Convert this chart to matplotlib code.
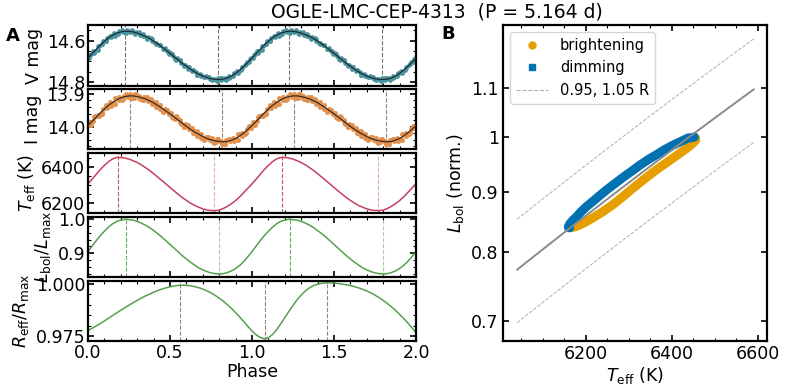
import numpy as np
import matplotlib
matplotlib.use("Agg")
import matplotlib.pyplot as plt
from matplotlib.ticker import AutoMinorLocator, FixedLocator, FixedFormatter, NullFormatter
from matplotlib.lines import Line2D

# ---------------- data (one pulsation cycle, phase 0..1) ----------------
phase_grid = [i * 0.025 for i in range(41)]

v_model = [14.684, 14.662, 14.642, 14.622, 14.603, 14.587, 14.574, 14.564, 14.558, 14.555,
           14.556, 14.558, 14.564, 14.571, 14.579, 14.590, 14.602, 14.616, 14.630, 14.646,
           14.661, 14.677, 14.693, 14.709, 14.723, 14.737, 14.750, 14.761, 14.770, 14.777,
           14.783, 14.786, 14.787, 14.785, 14.779, 14.770, 14.757, 14.742, 14.724, 14.704, 14.684]

i_model = [13.996, 13.984, 13.971, 13.958, 13.946, 13.935, 13.926, 13.918, 13.912, 13.908,
           13.906, 13.906, 13.908, 13.911, 13.915, 13.921, 13.927, 13.935, 13.943, 13.952,
           13.961, 13.970, 13.980, 13.989, 13.999, 14.008, 14.016, 14.023, 14.030, 14.036,
           14.040, 14.043, 14.045, 14.046, 14.045, 14.041, 14.036, 14.028, 14.019, 14.008, 13.996]

teff = [6308, 6334, 6361, 6388, 6411, 6432, 6447, 6455, 6455, 6452,
        6446, 6437, 6427, 6414, 6399, 6383, 6365, 6346, 6327, 6308,
        6288, 6269, 6250, 6232, 6216, 6201, 6188, 6178, 6169, 6163,
        6160, 6159, 6162, 6171, 6183, 6198, 6215, 6236, 6260, 6284, 6308]

lbol = [0.905, 0.921, 0.937, 0.952, 0.965, 0.977, 0.987, 0.994, 0.998, 1.000,
        0.999, 0.998, 0.994, 0.989, 0.983, 0.976, 0.967, 0.958, 0.948, 0.937,
        0.926, 0.915, 0.904, 0.893, 0.883, 0.874, 0.865, 0.857, 0.851, 0.846,
        0.842, 0.840, 0.839, 0.840, 0.843, 0.848, 0.855, 0.864, 0.876, 0.890, 0.905]

# radius over the full 0..2 range
r_phase = [i * 0.025 for i in range(81)]
r_eff = [0.9776, 0.9787, 0.9798, 0.9810, 0.9822, 0.9835, 0.9848, 0.9861, 0.9874, 0.9886,
         0.9898, 0.9910, 0.9921, 0.9932, 0.9942, 0.9951, 0.9960, 0.9968, 0.9975, 0.9981,
         0.9986, 0.9990, 0.9993, 0.9994, 0.9993, 0.9991, 0.9987, 0.9982, 0.9975, 0.9967,
         0.9957, 0.9945, 0.9932, 0.9917, 0.9900, 0.9882, 0.9862, 0.9841, 0.9819, 0.9796,
         0.9774, 0.9756, 0.9743, 0.9737, 0.9742, 0.9757, 0.9780, 0.9808, 0.9838, 0.9868,
         0.9897, 0.9924, 0.9947, 0.9966, 0.9981, 0.9992, 0.9999, 1.0003, 1.0005, 1.0005,
         1.0004, 1.0002, 0.9999, 0.9996, 0.9992, 0.9987, 0.9981, 0.9974, 0.9966, 0.9957,
         0.9946, 0.9934, 0.9921, 0.9906, 0.9890, 0.9873, 0.9854, 0.9834, 0.9813, 0.9790, 0.9765]

# observed photometry (one cycle)
obs_phase = [0.008, 0.017, 0.033, 0.042, 0.058, 0.067, 0.083, 0.092, 0.108, 0.117,
             0.133, 0.142, 0.158, 0.167, 0.183, 0.192, 0.208, 0.217, 0.233, 0.242,
             0.258, 0.267, 0.283, 0.292, 0.308, 0.317, 0.333, 0.342, 0.358, 0.367,
             0.383, 0.392, 0.408, 0.417, 0.433, 0.442, 0.458, 0.467, 0.483, 0.492,
             0.508, 0.517, 0.533, 0.542, 0.558, 0.567, 0.583, 0.592, 0.608, 0.617,
             0.633, 0.642, 0.658, 0.667, 0.683, 0.692, 0.708, 0.717, 0.733, 0.742,
             0.758, 0.767, 0.783, 0.792, 0.808, 0.817, 0.833, 0.842, 0.858, 0.867,
             0.883, 0.892, 0.908, 0.917, 0.933, 0.942, 0.958, 0.967, 0.983, 0.992]

v_obs = [14.682, 14.665, 14.650, 14.651, 14.643, 14.626, 14.617, 14.602, 14.602, 14.587,
         14.580, 14.584, 14.565, 14.569, 14.567, 14.556, 14.551, 14.559, 14.562, 14.554,
         14.558, 14.550, 14.564, 14.557, 14.563, 14.575, 14.568, 14.578, 14.588, 14.582,
         14.588, 14.601, 14.613, 14.610, 14.621, 14.619, 14.639, 14.636, 14.648, 14.662,
         14.660, 14.674, 14.687, 14.684, 14.692, 14.707, 14.720, 14.717, 14.728, 14.726,
         14.745, 14.741, 14.751, 14.763, 14.758, 14.769, 14.777, 14.771, 14.773, 14.784,
         14.791, 14.783, 14.787, 14.780, 14.790, 14.781, 14.780, 14.787, 14.770, 14.775,
         14.771, 14.757, 14.746, 14.750, 14.743, 14.728, 14.719, 14.703, 14.702, 14.685]

i_obs = [13.986, 13.995, 13.984, 13.967, 13.965, 13.968, 13.962, 13.946, 13.935, 13.942,
         13.926, 13.936, 13.927, 13.913, 13.914, 13.920, 13.919, 13.905, 13.900, 13.910,
         13.900, 13.913, 13.911, 13.899, 13.907, 13.916, 13.920, 13.910, 13.910, 13.922,
         13.917, 13.932, 13.934, 13.924, 13.936, 13.946, 13.954, 13.945, 13.948, 13.961,
         13.958, 13.974, 13.977, 13.969, 13.981, 13.992, 14.000, 13.992, 13.995, 14.008,
         14.005, 14.020, 14.022, 14.013, 14.023, 14.034, 14.040, 14.030, 14.030, 14.042,
         14.035, 14.049, 14.048, 14.036, 14.043, 14.052, 14.054, 14.041, 14.037, 14.045,
         14.033, 14.045, 14.037, 14.023, 14.023, 14.028, 14.023, 14.008, 13.997, 14.003]

# second set of observations (mid-interval phases)
obs_phase_b = [0.0125 + 0.025 * k for k in range(40)]
v_obs_b = [14.670, 14.658, 14.625, 14.615, 14.600, 14.576, 14.576, 14.559, 14.557, 14.550,
           14.554, 14.567, 14.561, 14.577, 14.590, 14.591, 14.616, 14.621, 14.638, 14.648,
           14.666, 14.691, 14.694, 14.718, 14.735, 14.739, 14.763, 14.764, 14.774, 14.774,
           14.782, 14.793, 14.779, 14.784, 14.780, 14.759, 14.757, 14.731, 14.714, 14.688]
i_obs_b = [13.995, 13.970, 13.967, 13.959, 13.936, 13.929, 13.930, 13.909, 13.914, 13.904,
           13.911, 13.899, 13.912, 13.920, 13.913, 13.922, 13.939, 13.933, 13.952, 13.954,
           13.971, 13.967, 13.987, 14.001, 13.999, 14.010, 14.028, 14.021, 14.037, 14.035,
           14.047, 14.036, 14.048, 14.053, 14.038, 14.037, 14.040, 14.018, 14.018, 13.999]

# phases of the marked extrema
v_ext = [0.226, 0.795, 1.224, 1.795]
i_ext = [0.256, 0.820, 1.254, 1.820]
t_ext_max = [0.180, 1.180]
t_ext_min = [0.770, 1.770]
l_ext_max = [0.230, 1.230]
l_ext_min = [0.800, 1.800]
r_ext = [0.560, 1.080, 1.460]

# constant-radius reference lines (panel B)
t_line_range = [6040, 6590]
t_ref = 6440
radius_factors = [0.95, 1.05]

# branches of the loop (indices in the cycle arrays)
bright_idx = list(range(32, 40)) + list(range(0, 10))
dim_idx = list(range(9, 33))

title = "OGLE-LMC-CEP-4313  (P = 5.164 d)"

# ---------------- styling ----------------
plt.rcParams.update({
    "font.family": "DejaVu Sans",
    "xtick.direction": "in", "ytick.direction": "in",
    "xtick.top": True, "ytick.right": True,
    "xtick.minor.visible": True, "ytick.minor.visible": True,
    "xtick.major.size": 4.5, "ytick.major.size": 4.5,
    "xtick.minor.size": 2.5, "ytick.minor.size": 2.5,
    "xtick.major.width": 1.2, "ytick.major.width": 1.2,
    "xtick.minor.width": 0.8, "ytick.minor.width": 0.8,
    "axes.linewidth": 1.6,
    "xtick.labelsize": 12.5, "ytick.labelsize": 12.5,
    "axes.labelsize": 12.5,
})

C_VPT = "#4a939e"
C_VLN = "#1c2b2e"
C_IPT = "#e3914f"
C_ILN = "#3b2a1c"
C_T = "#c4405e"
C_G = "#55a04f"
C_OR = "#E69F00"
C_BL = "#0072B2"

fig = plt.figure(figsize=(7.85, 3.86), dpi=100)

L0, W0 = 88 / 785, 328 / 785
rows_px = [(25, 86), (89, 149), (153, 213), (217, 277), (281, 341)]
axes = []
for top, bot in rows_px:
    ax = fig.add_axes([L0, 1 - bot / 386, W0, (bot - top) / 386])
    axes.append(ax)
axV, axI, axT, axL, axR = axes

ph1 = np.array(phase_grid)
ph2 = np.concatenate([ph1, ph1[1:] + 1])
def two(a):
    a = np.array(a)
    return np.concatenate([a, a[1:]])
op = np.concatenate([obs_phase, obs_phase_b])
op2 = np.concatenate([op, op + 1])
vo = np.concatenate([v_obs, v_obs_b])
io = np.concatenate([i_obs, i_obs_b])

# V
axV.plot(op2, np.concatenate([vo, vo]), "o", ms=3.4, color=C_VPT, mec="none", zorder=2)
axV.plot(ph2, two(v_model), "-", color=C_VLN, lw=0.9, zorder=3)
for p in v_ext:
    axV.axvline(p, color="#555555", ls="--", lw=0.8, alpha=0.8, zorder=1)
axV.set_ylim(14.818, 14.525)
axV.set_ylabel("V mag")

# I
axI.plot(op2, np.concatenate([io, io]), "o", ms=3.6, color=C_IPT, mec="none", zorder=2)
axI.plot(ph2, two(i_model), "-", color=C_ILN, lw=0.9, zorder=3)
for p in i_ext:
    axI.axvline(p, color="#8b6b52", ls="--", lw=0.8, alpha=0.85, zorder=1)
axI.set_ylim(14.068, 13.885)
axI.set_ylabel("I mag")

# Teff
axT.plot(ph2, two(teff), "-", color=C_T, lw=1.1)
for p in t_ext_max:
    axT.axvline(p, color=C_T, ls="--", lw=0.8, alpha=0.9)
for p in t_ext_min:
    axT.axvline(p, color=C_T, ls="--", lw=0.8, alpha=0.45)
axT.set_ylim(6146, 6480)
axT.set_ylabel(r"$T_{\rm eff}$ (K)")

# L
axL.plot(ph2, two(lbol), "-", color=C_G, lw=1.1)
for p in l_ext_max:
    axL.axvline(p, color=C_G, ls="--", lw=0.8, alpha=0.9)
for p in l_ext_min:
    axL.axvline(p, color=C_G, ls="--", lw=0.8, alpha=0.5)
axL.set_ylim(0.830, 1.007)
axL.set_ylabel(r"$L_{\rm bol}/L_{\rm max}$")

# R
axR.plot(r_phase, r_eff, "-", color=C_G, lw=1.1)
for p in r_ext:
    axR.axvline(p, color="#8b6b52", ls="--", lw=0.8, alpha=0.85)
axR.set_ylim(0.9726, 1.0014)
axR.set_yticks([0.975, 1.000])
axR.set_yticklabels(["0.975", "1.000"])
axR.set_ylabel(r"$R_{\rm eff}/R_{\rm max}$")
axR.set_xlabel("Phase", labelpad=1)

axV.set_yticks([14.6, 14.8])
axI.set_yticks([13.9, 14.0])
axT.set_yticks([6200, 6400])
axL.set_yticks([0.9, 1.0])
for ax in axes:
    ax.set_xlim(0, 2)
    ax.set_xticks([0, 0.5, 1.0, 1.5, 2.0])
    ax.xaxis.set_minor_locator(AutoMinorLocator())
    ax.yaxis.set_minor_locator(AutoMinorLocator())
    ax.tick_params(pad=2)
    ax.yaxis.labelpad = 3
    if ax is not axR:
        ax.tick_params(labelbottom=False)
axR.set_xticklabels(["0.0", "0.5", "1.0", "1.5", "2.0"])

# ---------------- panel B ----------------
axB = fig.add_axes([503 / 785, 1 - 341 / 386, 264 / 785, 316 / 386])
tb = [teff[k] for k in bright_idx]
lb = [lbol[k] for k in bright_idx]
td = [teff[k] for k in dim_idx]
ld = [lbol[k] for k in dim_idx]
axB.plot(tb, lb, "-", color=C_OR, lw=6.5, solid_capstyle="round", solid_joinstyle="round", zorder=2)
axB.plot(td, ld, "-", color=C_BL, lw=6.5, solid_capstyle="round", solid_joinstyle="round", zorder=3)
tl = np.linspace(t_line_range[0], t_line_range[1], 60)
axB.plot(tl, (tl / t_ref) ** 4, "-", color="#8a8a8a", lw=1.4, zorder=4)
for f in radius_factors:
    axB.plot(tl, f ** 2 * (tl / t_ref) ** 4, "--", color="#b0b0b0", lw=0.7, zorder=4)
axB.set_yscale("log")
axB.set_xlim(6007, 6621)
axB.set_ylim(0.674, 1.242)
axB.set_xticks([6200, 6400, 6600])
axB.xaxis.set_minor_locator(AutoMinorLocator())
axB.yaxis.set_major_locator(FixedLocator([0.7, 0.8, 0.9, 1.0, 1.1]))
axB.yaxis.set_major_formatter(FixedFormatter(["0.7", "0.8", "0.9", "1", "1.1"]))
axB.yaxis.set_minor_locator(FixedLocator([]))
axB.yaxis.set_minor_formatter(NullFormatter())
axB.tick_params(pad=3)
axB.set_xlabel(r"$T_{\rm eff}$ (K)", labelpad=1)
axB.set_ylabel(r"$L_{\rm bol}$ (norm.)")
handles = [Line2D([], [], marker="o", ls="none", color=C_OR, ms=5),
           Line2D([], [], marker="s", ls="none", color=C_BL, ms=5),
           Line2D([], [], ls="--", color="#b0b0b0", lw=0.8)]
axB.legend(handles, ["brightening", "dimming", "0.95, 1.05 R"], loc="upper left",
           fontsize=10.5, frameon=True, borderaxespad=0.5, handlelength=2.2)

fig.text(0.557, 0.968, title, ha="center", va="center", fontsize=13.5)
fig.text(0.016, 0.908, "A", fontsize=13, fontweight="bold", ha="center", va="center")
fig.text(0.571, 0.913, "B", fontsize=13, fontweight="bold", ha="center", va="center")

fig.savefig("out.png", dpi=100)
